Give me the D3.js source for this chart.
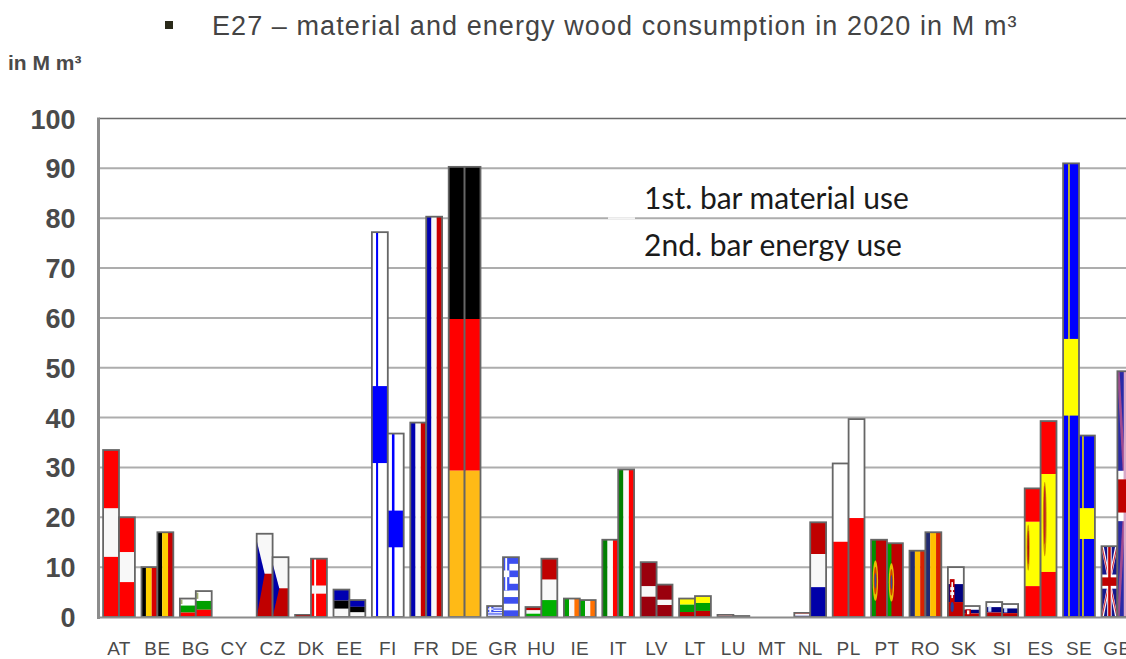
<!DOCTYPE html>
<html><head><meta charset="utf-8">
<script src="https://cdn.jsdelivr.net/npm/d3@7"></script>
<style>html,body{margin:0;background:#fff}svg{display:block}</style></head>
<body><svg id="c" width="1126" height="659"></svg>
<script>
const categories = ["AT","BE","BG","CY","CZ","DK","EE","FI","FR","DE","GR","HU","IE","IT","LV","LT","LU","MT","NL","PL","PT","RO","SK","SI","ES","SE","GB"];
const materialUse = [33.5,10,3.7,0,16.7,0.5,5.5,77.2,39,90.3,2.2,2,3.7,15.5,11,3.7,0.5,0,0.9,30.8,15.5,13.3,10,3,25.8,91,14.2];
const energyUse  = [20,17,5.2,0,12,11.7,3.4,36.8,80.3,90.3,12,11.7,3.4,29.6,6.5,4.2,0.2,0,19,39.7,14.8,17,2.2,2.6,39.3,36.4,49.3];
const yTicks = [0,10,20,30,40,50,60,70,80,90,100];

// flag painters, unit square: [x0,y0,x1,y1,colour] rectangles or {p:[[x,y]..],c} polygons or {e:[cx,cy,rx,ry],c}
const R="#ff0000",W="#f8f8f8",DR="#c00000",N="#0000a8",B="#0000ff",Y="#ffff00";
const hs=(...a)=>{let y=0,o=[];a.forEach(([c,h])=>{o.push([0,y,1,y+h,c]);y+=h});return o};
const vs=(...a)=>{let x=0,o=[];a.forEach(([c,w])=>{o.push([x,0,x+w,1,c]);x+=w});return o};
const blueCross=(vx,vw,hy,hh)=>[[0,0,1,1,"#fff"],[vx,0,vx+vw,1,B],[0,hy,1,hy+hh,B]];
const seCross=(vx,vw,hy,hh)=>[[0,0,1,1,B],[vx,0,vx+vw,1,"#e8d800"],[0,hy,1,hy+hh,Y]];
const ukFlag=[[0,0,1,1,"#14148c"],
 {p:[[0,0],[.14,0],[1,.97],[1,1],[.86,1],[0,.03]],c:"#fff"},{p:[[1,0],[.86,0],[0,.97],[0,1],[.14,1],[1,.03]],c:"#fff"},
 {p:[[0,0],[.06,0],[1,.985],[1,1],[.94,1],[0,.015]],c:"#d03040"},{p:[[1,0],[.94,0],[0,.985],[0,1],[.06,1],[1,.015]],c:"#d03040"},
 [.36,0,.64,1,"#fff"],[0,.40,1,.60,"#fff"],[.42,0,.58,1,DR],[0,.44,1,.56,DR]];
const ukTall=[[0,0,1,1,"#2a2aa8"],
 {p:[[0,0],[.14,0],[1,.97],[1,1],[.86,1],[0,.03]],c:"#a04a90"},{p:[[1,0],[.86,0],[0,.97],[0,1],[.14,1],[1,.03]],c:"#a04a90"},
 [.4,0,.6,1,"#d8a8c8"],[0,.405,.4,.61,"#fff"],[0,.44,1,.575,DR]];
const ptEmblem=(x)=>[{e:[x,.53,.17,.26],c:"#e8c000"},{e:[x,.53,.10,.18],c:"#d04000"},{e:[x,.53,.05,.10],c:"#3048a0"}];
const greek=(()=>{const o=[[0,0,1,1,"#3c50f0"]];for(let i=1;i<9;i+=2)o.push([0,i/9,1,(i+1)/9,"#fff"]);
 o.push([0,0,.4,5/9,"#3c50f0"],[.14,0,.26,5/9,"#fff"],[0,2/9,.4,3/9,"#fff"]);return o})();
const flags={
 AT:[hs([R,.35],[W,.29],[R,.36]),hs([R,.35],[W,.3],[R,.35])],
 BE:[vs(["#000",.28],["#ffd000",.36],["#d80000",.36]),vs(["#000",.3],["#ffd000",.37],["#c80000",.33])],
 BG:[[...hs(["#fff",.38],["#00a000",.38],["#ff0000",.24]),[.03,.06,.16,.3,"#a0b070"]],[...hs(["#fff",.38],["#00a000",.34],["#ff0000",.28]),[.03,.06,.16,.3,"#a0b070"]]],
 CY:[[],[]],
 CZ:[[[0,0,1,.48,W],[0,.48,1,1,DR],{p:[[0,.08],[.5,.48],[0,1]],c:N}],
     [[0,0,1,.52,W],[0,.52,1,1,DR],{p:[[0,.1],[.42,.52],[0,1]],c:N}]],
 DK:[hs([DR,1]),[[0,0,1,1,R],[.2,0,.32,1,"#fff"],[0,.46,1,.6,W]]],
 EE:[hs(["#0000b0",.4],["#000",.3],[W,.3]),hs(["#0000b0",.4],["#000",.33],[W,.27])],
 FI:[blueCross(.26,.13,.4,.2),blueCross(.26,.16,.42,.2)],
 FR:[vs(["#0000b0",.33],[W,.33],["#c80000",.34]),vs(["#0000b0",.33],[W,.33],["#c80000",.34])],
 DE:[hs(["#000",.338],[R,.337],["#ffba14",.325]),hs(["#000",.338],[R,.337],["#ffba14",.325])],
 GR:[greek,greek],
 HU:[hs([DR,.33],[W,.34],["#00b000",.33]),hs([DR,.36],[W,.35],["#00b000",.29])],
 IE:[vs(["#00a000",.33],[W,.33],["#ff7000",.34]),vs(["#00a000",.33],[W,.33],["#ff7000",.34])],
 IT:[vs(["#008000",.33],[W,.34],[R,.33]),vs(["#008000",.33],[W,.34],[R,.33])],
 LV:[hs(["#9a0010",.44],[W,.19],["#9a0010",.37]),hs(["#9a0010",.47],[W,.16],["#9a0010",.37])],
 LT:[hs([Y,.33],["#00a000",.4],[DR,.27]),hs([Y,.33],["#00a000",.38],[DR,.29])],
 LU:[hs(["#a04040",.5],[W,.1],["#8080c0",.4]),hs([DR,1])],
 MT:[[],[]],
 NL:[hs(["#c04040",.3],[W,.4],["#6060c0",.3]),hs([DR,.335],[W,.35],[N,.315])],
 PL:[hs(["#fff",.51],[R,.49]),hs(["#fff",.5],[R,.5])],
 PT:[[[0,0,1,1,DR],[0,0,.3,1,"#009000"],...ptEmblem(.27)],[[0,0,1,1,DR],[0,0,.28,1,"#00a000"],...ptEmblem(.28)]],
 RO:[vs(["#202a70",.34],["#ffc000",.33],["#d82000",.33]),vs(["#202a70",.3],["#ffc000",.37],["#d82000",.33])],
 SK:[[...hs(["#fff",.34],["#000080",.36],[DR,.3]),[.12,.24,.42,.93,DR],[.22,.3,.32,.62,W],[.15,.4,.39,.46,W],[.15,.5,.39,.56,W],{e:[.27,.8,.1,.1],c:"#2040a0"}],
     [...hs(["#fff",.34],["#000080",.33],[DR,.33]),[.1,.3,.45,.95,DR],[.2,.4,.35,.75,W]]],
 SI:[[...hs(["#fff",.34],["#000080",.36],[DR,.3]),[.12,.3,.32,.65,"#c8d8ff"]],[...hs(["#fff",.34],["#000080",.36],[DR,.3]),[.12,.3,.32,.65,"#c8d8ff"]]],
 ES:[[...hs([R,.26],[Y,.5],[R,.24]),{e:[.22,.46,.1,.18],c:"#d09000"},{e:[.22,.46,.05,.13],c:"#b01010"}],
     [...hs([R,.27],[Y,.5],[R,.23]),{e:[.26,.5,.12,.19],c:"#d09000"},{e:[.26,.48,.06,.15],c:"#c02020"}]],
 SE:[seCross(.32,.1,.387,.169),seCross(.2,.1,.4,.17)],
 GB:[ukFlag,ukTall]
};

const svg=d3.select("#c");
const y=d3.scaleLinear().domain([0,100]).range([617,118.5]);
const x=d3.scaleBand().domain(categories).range([99.8,1136.6]).padding(0);
const barW=15.9;
svg.append("defs").append("filter").attr("id","soft").append("feGaussianBlur").attr("stdDeviation",.45);

// title & unit
svg.append("rect").attr("x",165).attr("y",21).attr("width",8).attr("height",8).attr("fill","#2a2a1a");
svg.append("text").attr("x",212).attr("y",35).attr("font-family","Liberation Sans").attr("font-size",27)
  .attr("letter-spacing","1.08").attr("fill","#444").text("E27 – material and energy wood consumption in 2020 in M m³");
svg.append("text").attr("x",8).attr("y",70).attr("font-family","Liberation Sans").attr("font-weight","bold")
  .attr("font-size",21).attr("fill","#4a4a4a").text("in M m³");

// grid
const grid=svg.append("g");
grid.selectAll("line").data(yTicks.filter(t=>t>0)).join("line")
  .attr("x1",99).attr("x2",1126).attr("y1",d=>y(d)).attr("y2",d=>y(d))
  .attr("stroke",d=>d===100?"#6a6a6a":"#adadad").attr("stroke-width",d=>d===100?1.6:2);
grid.append("line").attr("x1",608).attr("x2",635).attr("y1",y(80)).attr("y2",y(80)).attr("stroke","#f4f4f4").attr("stroke-width",2);

// y axis labels
svg.append("g").selectAll("text").data(yTicks).join("text")
  .attr("x",75.5).attr("y",d=>y(d)+10).attr("text-anchor","end").attr("font-family","Liberation Sans")
  .attr("font-weight","bold").attr("font-size",27).attr("fill","#4a4a4a").text(d=>d);

// bars
const scaleFlag=(g,spec,bx,by,bw,bh)=>{
  const fx=d3.scaleLinear().range([bx,bx+bw]),fy=d3.scaleLinear().range([by,by+bh]);
  spec.forEach(s=>{
    if(Array.isArray(s)) g.append("rect").attr("x",fx(s[0])).attr("y",fy(s[1])).attr("width",fx(s[2])-fx(s[0])).attr("height",fy(s[3])-fy(s[1])).attr("fill",s[4]);
    else if(s.p) g.append("polygon").attr("points",s.p.map(q=>fx(q[0])+","+fy(q[1])).join(" ")).attr("fill",s.c);
    else g.append("ellipse").attr("cx",fx(s.e[0])).attr("cy",fy(s.e[1])).attr("rx",fx(s.e[2])-bx).attr("ry",fy(s.e[3])-by).attr("fill",s.c);
  });
};
const bars=svg.append("g");
categories.forEach((c,i)=>{
  const center=x(c)+x.bandwidth()/2;
  [materialUse[i],energyUse[i]].forEach((v,k)=>{
    if(!v) return;
    const bx=center+(k?0:-barW),by=y(v),bh=y(0)-by;
    const g=bars.append("g").attr("filter","url(#soft)");
    scaleFlag(g,flags[c][k],bx,by,barW,bh);
    g.append("rect").attr("x",bx).attr("y",by).attr("width",barW).attr("height",bh)
      .attr("fill","none").attr("stroke","#666").attr("stroke-width",1.8);
  });
});

// axes
svg.append("line").attr("x1",98.5).attr("x2",98.5).attr("y1",117.5).attr("y2",619).attr("stroke","#8c8c8c").attr("stroke-width",3);
svg.append("line").attr("x1",97).attr("x2",1126).attr("y1",y(0)+.5).attr("y2",y(0)+.5).attr("stroke","#8c8c8c").attr("stroke-width",2);

// category labels
svg.append("g").selectAll("text").data(categories).join("text")
  .attr("x",d=>x(d)+x.bandwidth()/2).attr("y",654.8).attr("text-anchor","middle")
  .attr("font-family","Liberation Sans").attr("font-size",19).attr("letter-spacing",".4").attr("fill","#4a4a4a").text(d=>d);

// note
const notes=["1st. bar material use","2nd. bar energy use"];
svg.append("g").selectAll("text").data(notes).join("text")
  .attr("x",644).attr("y",(d,i)=>209+i*47).attr("font-family","Lato").attr("font-size",30).attr("fill","#1a1a1a").text(d=>d);
</script></body></html>
